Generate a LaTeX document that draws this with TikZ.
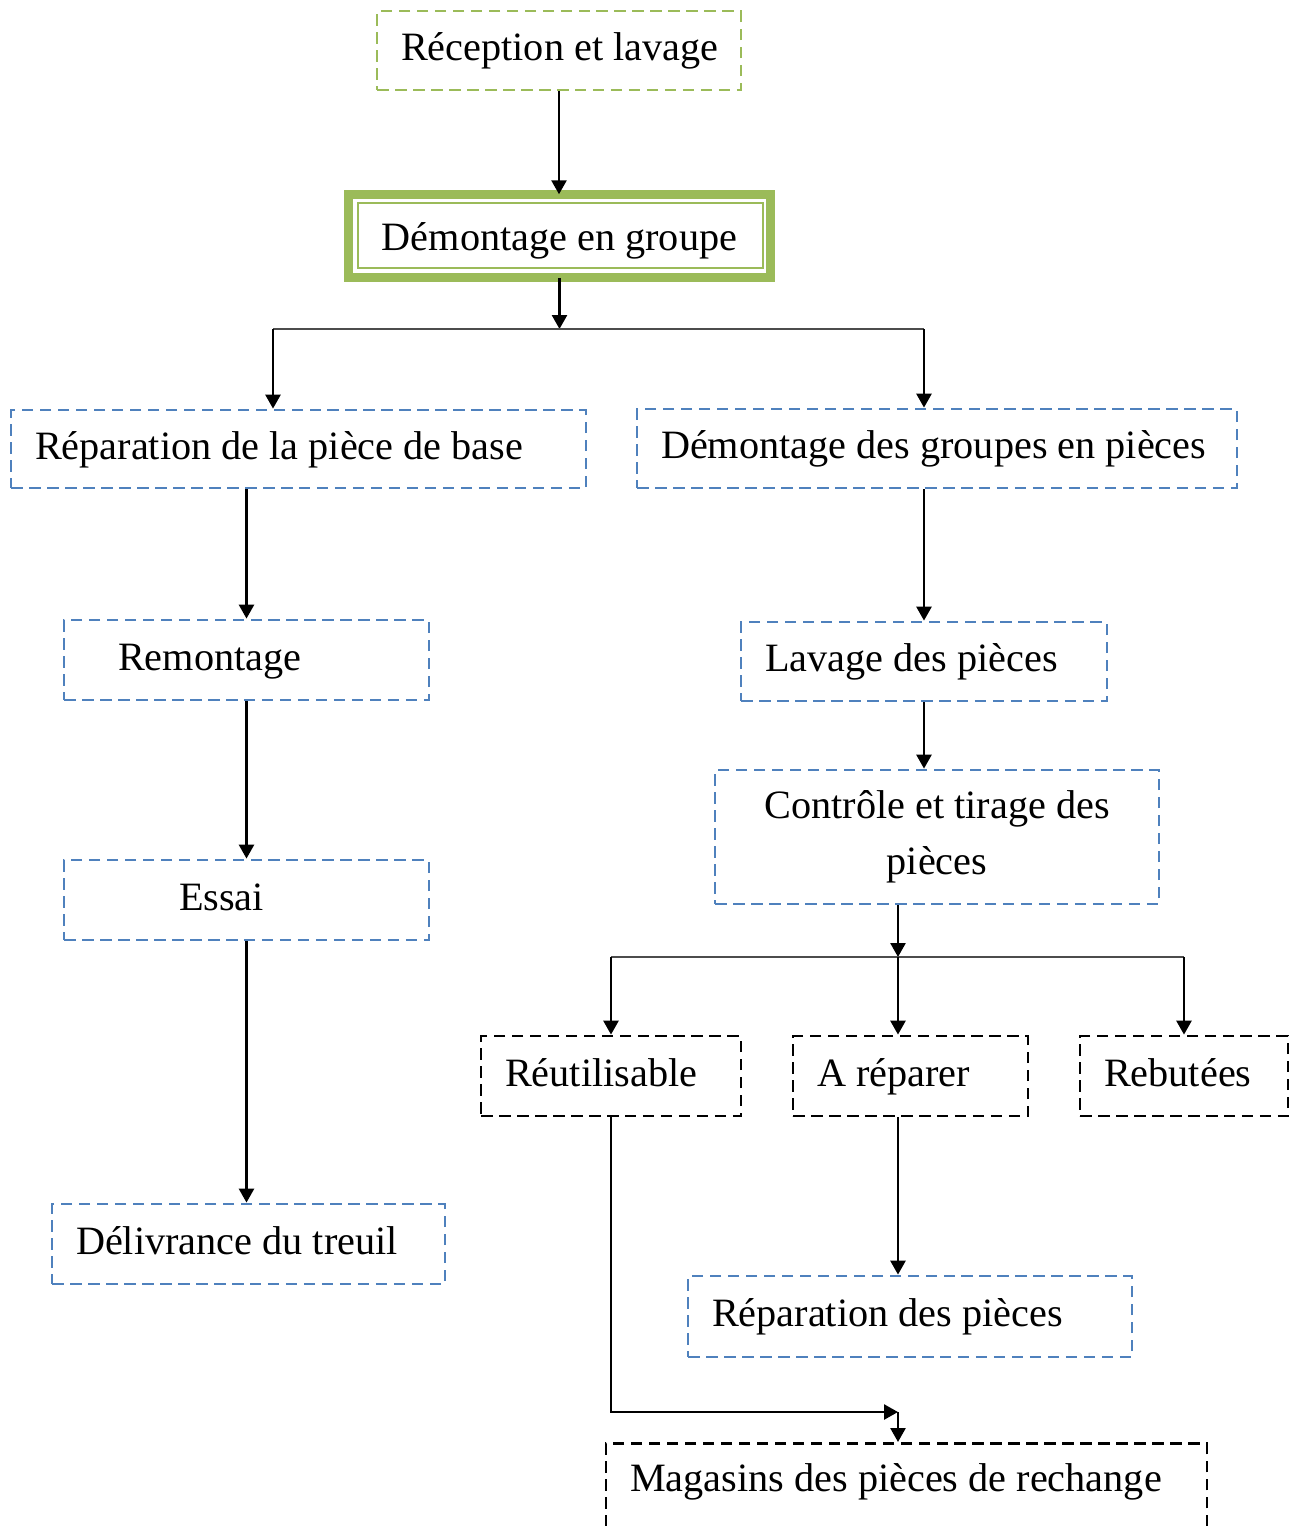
\documentclass[tikz,border=0pt]{standalone}
\usepackage{fontspec}
\setmainfont{Liberation Serif}
\usetikzlibrary{arrows.meta}
\definecolor{boxgreen}{HTML}{9BBB59}
\definecolor{boxblue}{HTML}{4F81BD}
\newcommand{\boxtext}[2]{\makebox[#1][l]{#2}}

\begin{document}
\begin{tikzpicture}[x=0.02cm, y=-0.02cm,
    box/.style={draw, line width=1.6pt, dash pattern=on 0.23cm off 0.13cm, inner xsep=0.48cm, inner ysep=0.2cm, font=\fontsize{22.9}{32}\selectfont},
    oneline/.style={text height=0.6cm, text depth=0.2cm},
    greenbox/.style={box, draw=boxgreen, text=black},
    bluebox/.style={box, draw=boxblue, text=black},
    blackbox/.style={box, draw=black},
    arrow/.style={-{Triangle[length=0.28cm, width=0.3cm]}, line width=1.5pt},
    branch/.style={line width=1.1pt, black!70}]

    \useasboundingbox (0,0) rectangle (1295,1526);

    \node[greenbox, oneline, minimum width=7.28cm, minimum height=1.58cm] (rec) at (559,50.5) {\boxtext{6.32cm}{Réception et lavage}};
    \node[draw=boxgreen, line width=5.1pt, outer sep=0pt, minimum width=8.44cm, minimum height=1.67cm, text height=0.76cm, text depth=0.2cm, font=\fontsize{22.9}{32}\selectfont] (dg) at (559.5,236) {Démontage en groupe};
    \draw[boxgreen, line width=1.1pt] ([shift={(0.19cm,-0.18cm)}]dg.north west) rectangle ([shift={(-0.15cm,0.19cm)}]dg.south east);

    \node[bluebox, oneline, minimum width=11.5cm, minimum height=1.56cm] (rep) at (298.5,449) {\boxtext{10.54cm}{Réparation de la pièce de base}};
    \node[bluebox, oneline, minimum width=12cm, minimum height=1.58cm] (dgp) at (937,448.5) {\boxtext{11.04cm}{Démontage des groupes en pièces}};

    \node[bluebox, oneline, minimum width=7.3cm, minimum height=1.6cm] (rem) at (246.5,660) {\boxtext{6.34cm}{\hspace*{0.6cm}Remontage}};
    \node[bluebox, oneline, minimum width=7.3cm, minimum height=1.6cm] (ess) at (246.5,900) {\boxtext{6.34cm}{\hspace*{1.82cm}Essai}};
    \node[bluebox, oneline, minimum width=7.86cm, minimum height=1.6cm] (del) at (248.5,1244) {\boxtext{6.9cm}{Délivrance du treuil}};

    \node[bluebox, oneline, minimum width=7.32cm, minimum height=1.58cm] (lav) at (924,661.5) {\boxtext{6.36cm}{Lavage des pièces}};
    \node[bluebox, align=center, minimum width=8.88cm, minimum height=2.68cm] (ctl) at (937,837) {Contrôle et tirage des\\pièces};

    \node[blackbox, oneline, minimum width=5.2cm, minimum height=1.6cm] (reu) at (611,1076) {\boxtext{4.24cm}{Réutilisable}};
    \node[blackbox, oneline, minimum width=4.7cm, minimum height=1.6cm] (arp) at (910.5,1076) {\boxtext{3.74cm}{A réparer}};
    \node[blackbox, oneline, minimum width=4.16cm, minimum height=1.6cm] (reb) at (1184,1076) {\boxtext{3.2cm}{Rebutées}};

    \node[bluebox, oneline, minimum width=8.88cm, minimum height=1.62cm] (rpp) at (910,1316.5) {\boxtext{7.92cm}{Réparation des pièces}};
    \node[blackbox, anchor=north, minimum width=12.02cm, inner ysep=0.36cm, text height=0.6cm, text depth=2cm] (mag) at (906.5,1442) {\boxtext{11.06cm}{Magasins des pièces de rechange}};

    \coordinate (j1) at (559,329);
    \coordinate (j1l) at (273,329);
    \coordinate (j2) at (898,957);
    \coordinate (c) at (898,1412);

    \draw[arrow] (rec.south) -- (rec.south |- dg.north);
    \draw[arrow] (dg.south) -- (dg.south |- j1);
    \draw[branch] (j1l) -- (j1 -| lav.north);
    \draw[arrow] (j1l) -- (j1l |- rep.north);
    \draw[arrow] (j1 -| lav.north) -- (lav.north |- dgp.north);

    \draw[arrow] (rep.south -| rem.north) -- (rem.north);
    \draw[arrow] (rem.south) -- (ess.north);
    \draw[arrow] (ess.south) -- (ess.south |- del.north);

    \draw[arrow] (dgp.south -| lav.north) -- (lav.north);
    \draw[arrow] (lav.south) -- (lav.south |- ctl.north);
    \draw[arrow] (ctl.south -| j2) -- (j2);
    \draw[branch] (j2 -| reu.north) -- (j2 -| reb.north);
    \draw[arrow] (j2 -| reu.north) -- (reu.north);
    \draw[arrow] (j2) -- (j2 |- arp.north);
    \draw[arrow] (j2 -| reb.north) -- (reb.north);

    \draw[arrow] (arp.south -| j2) -- (j2 |- rpp.north);
    \draw[arrow] (reu.south) |- (c);
    \draw[arrow] (c) -- (c |- mag.north);
\end{tikzpicture}
\end{document}
